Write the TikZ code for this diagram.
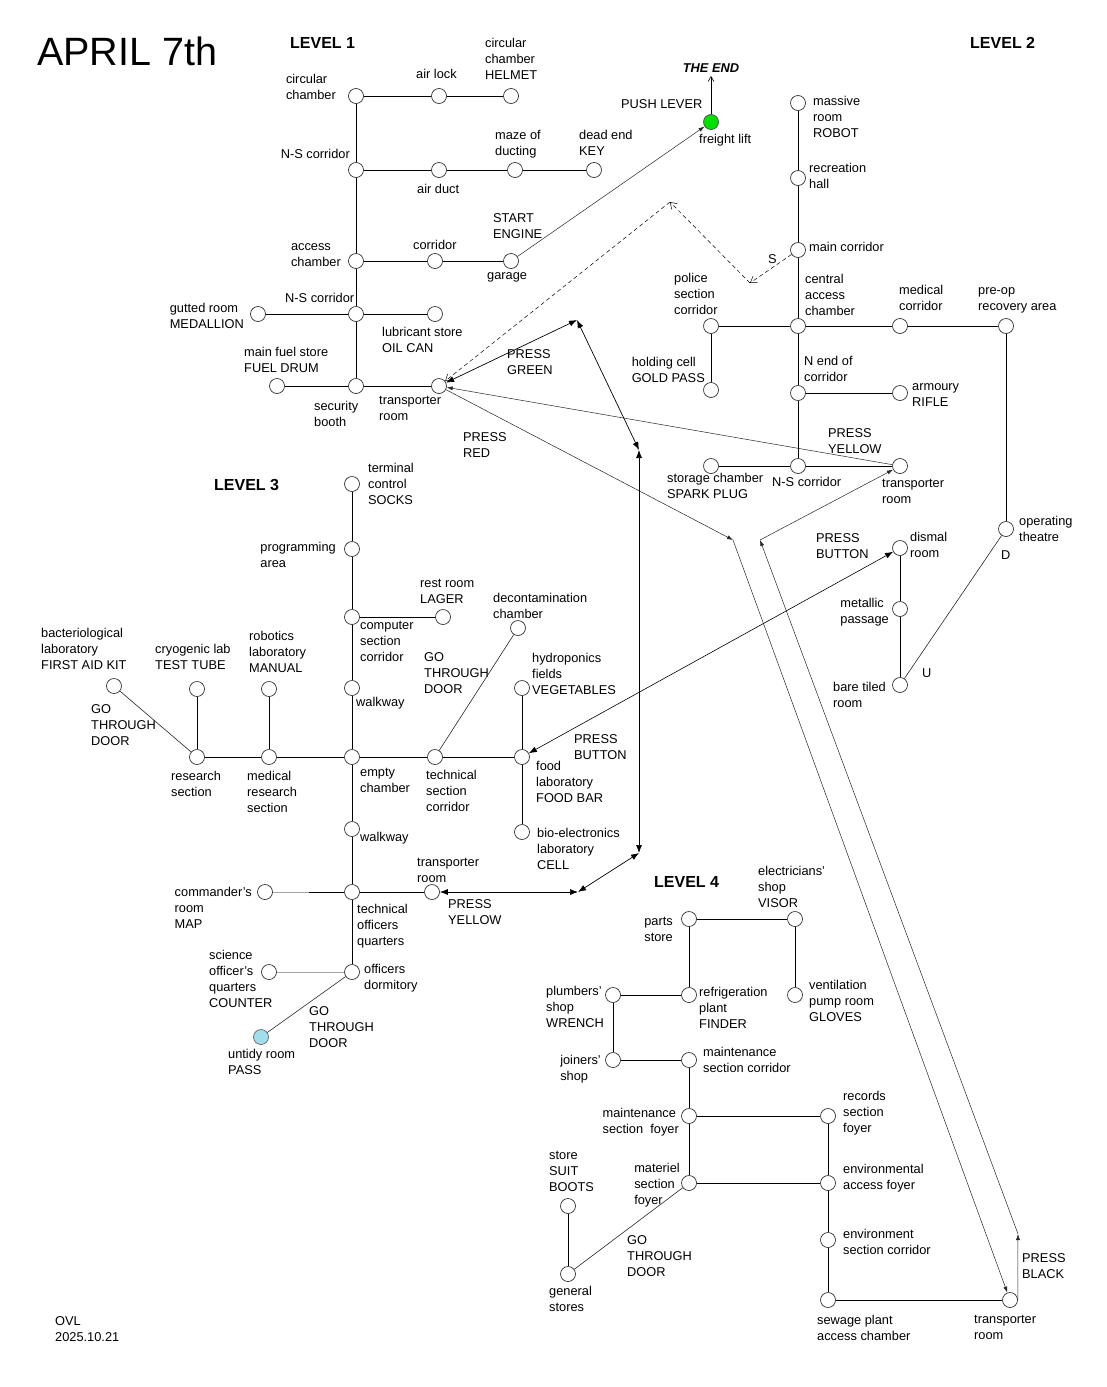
\documentclass[tikz,border=0pt]{standalone}
\usepackage{fontspec}
\setmainfont{Liberation Sans}
\usetikzlibrary{arrows.meta}
\definecolor{lgreen}{RGB}{0,225,0}
\definecolor{lblue}{RGB}{160,222,236}
\newcommand\myfs{\fontsize{12.8}{16}\selectfont}
\begin{document}
\begin{tikzpicture}[x=1pt,y=-1pt,
  room/.style={circle, draw=black!80, line width=0.7pt, fill=white, minimum size=15pt, inner sep=0pt},
  lbl/.style={anchor=north west, yshift=11.2pt, inner sep=0pt, align=left, font=\myfs},
  rlbl/.style={lbl, anchor=north east},
  lvl/.style={anchor=base west, inner sep=0pt, font=\bfseries\fontsize{16}{19}\selectfont},
  link/.style={line width=0.85pt},
  door/.style={line width=0.6pt, draw=black!85},
  thinarrow/.style={line width=0.5pt, draw=black!85, -{Latex[length=6pt,width=4pt]}},
  endarrow/.style={line width=0.6pt, -{Straight Barb[length=5pt,width=6pt]}},
  dbl/.style={line width=0.7pt, {Latex[length=8pt,width=6pt]}-{Latex[length=8pt,width=6pt]}},
  dsh/.style={line width=0.5pt, dash pattern=on 4pt off 3pt, -{Straight Barb[length=6pt,width=8pt]}},
]
\fill[white] (0,0) rectangle (1107,1387);
\useasboundingbox (0,0) rectangle (1107,1387);

% ---------- title ----------
\node[anchor=base west, inner sep=0pt, font=\fontsize{39.5}{46}\selectfont] (title) at (37,65) {APRIL 7th};
\node[lbl] (t_sig) at (55,1325) {\strut OVL\\2025.10.21};

% ---------- LEVEL 1 ----------
\node[lvl] (lv1) at (290,48) {LEVEL 1};
\node[room] (c1) at (356,96) {};
\node[room] (airlock) at (439,96) {};
\node[room] (helmet) at (511,96) {};
\node[room] (ns1) at (356,170) {};
\node[room] (airduct) at (439,170) {};
\node[room] (maze) at (515,170) {};
\node[room] (deadend) at (594,170) {};
\node[room] (access) at (356,261) {};
\node[room] (corr1) at (435,261) {};
\node[room] (garage) at (511,261) {};
\node[room] (ns2) at (356,314) {};
\node[room] (gutted) at (258,314) {};
\node[room] (lube) at (435,314) {};
\node[room] (secur) at (356,386) {};
\node[room] (fuel) at (277,386) {};
\node[room] (tr1) at (439,386) {};

\node[rlbl] (t_c1) at (336,83) {\strut circular\\chamber};
\node[lbl] (t_airlock) at (416,78) {\strut air lock};
\node[lbl] (t_helmet) at (485,47.5) {\strut circular\\chamber\\HELMET};
\node[rlbl] (t_ns1) at (350,158) {\strut N-S corridor};
\node[lbl] (t_airduct) at (417,193) {\strut air duct};
\node[lbl] (t_maze) at (495,139) {\strut maze of\\ducting};
\node[lbl] (t_dead) at (579,139) {\strut dead end\\KEY};
\node[rlbl] (t_access) at (341,250) {\strut access\\chamber};
\node[lbl] (t_corr1) at (413,249) {\strut corridor};
\node[lbl] (t_start) at (493,222) {\strut START\\ENGINE};
\node[lbl] (t_garage) at (487,279) {\strut garage};
\node[lbl] (t_ns2) at (285,302) {\strut N-S corridor};
\node[rlbl] (t_gutted) at (244,312) {\strut gutted room\\MEDALLION};
\node[lbl] (t_lube) at (382,336) {\strut lubricant store\\OIL CAN};
\node[lbl] (t_fuel) at (244,356) {\strut main fuel store\\FUEL DRUM};
\node[lbl] (t_secur) at (314,410) {\strut security\\booth};
\node[lbl] (t_tr1) at (379,404) {\strut transporter\\room};
\node[lbl] (t_green) at (507,358) {\strut PRESS\\GREEN};
\node[lbl] (t_red) at (463,441) {\strut PRESS\\RED};

\draw[link] (c1) -- (airlock) -- (helmet);
\draw[link] (c1) -- (ns1) -- (access) -- (ns2) -- (secur);
\draw[link] (ns1) -- (airduct) -- (maze) -- (deadend);
\draw[link] (access) -- (corr1) -- (garage);
\draw[link] (gutted) -- (ns2) -- (lube);
\draw[link] (fuel) -- (secur) -- (tr1);

% ---------- LEVEL 2 ----------
\node[lvl] (lv2) at (970,48) {LEVEL 2};
\node[room, fill=lgreen, draw=black!70] (freight) at (711,122) {};
\coordinate (endtip) at (711,76);
\node[anchor=base, inner sep=0pt, font=\bfseries\itshape\myfs] (t_end) at (711,72) {THE END};
\node[room] (robot) at (798,103) {};
\node[room] (recr) at (798,178) {};
\node[room] (mainc) at (798,250) {};
\node[room] (central) at (798,326) {};
\node[room] (police) at (711,326) {};
\node[room] (medc) at (900,326) {};
\node[room] (preop) at (1006,326) {};
\node[room] (holding) at (711,390) {};
\node[room] (nend) at (798,393) {};
\node[room] (armoury) at (900,393) {};
\node[room] (storage) at (711,466) {};
\node[room] (ns3) at (798,466) {};
\node[room] (tr2) at (900,466) {};
\node[room] (optheatre) at (1006,529) {};
\node[room] (dismal) at (900,548) {};
\node[room] (metallic) at (900,609) {};
\node[room] (bare) at (900,685) {};

\node[lbl] (t_push) at (621,108) {\strut PUSH LEVER};
\node[lbl] (t_freight) at (699,143) {\strut freight lift};
\node[lbl] (t_robot) at (813,105) {\strut massive\\room\\ROBOT};
\node[lbl] (t_recr) at (809,172) {\strut recreation\\hall};
\node[lbl] (t_mainc) at (809,251) {\strut main corridor};
\node[lbl] (t_S) at (768,263) {\strut S};
\node[lbl] (t_central) at (805,283) {\strut central\\access\\chamber};
\node[lbl] (t_police) at (674,282) {\strut police\\section\\corridor};
\node[lbl] (t_medc) at (899,294) {\strut medical\\corridor};
\node[lbl] (t_preop) at (978,294) {\strut pre-op\\recovery area};
\node[rlbl] (t_holding) at (705,366) {\strut holding cell\\GOLD PASS};
\node[lbl] (t_nend) at (804,365) {\strut N end of\\corridor};
\node[lbl] (t_arm) at (912,390) {\strut armoury\\RIFLE};
\node[lbl] (t_storage) at (667,482) {\strut storage chamber\\SPARK PLUG};
\node[lbl] (t_ns3) at (772,486) {\strut N-S corridor};
\node[lbl] (t_tr2) at (882,487) {\strut transporter\\room};
\node[lbl] (t_yel2) at (828,437) {\strut PRESS\\YELLOW};
\node[lbl] (t_op) at (1019,525) {\strut operating\\theatre};
\node[lbl] (t_D) at (1001,559) {\strut D};
\node[lbl] (t_dismal) at (910,541) {\strut dismal\\room};
\node[lbl] (t_btn2) at (816,542) {\strut PRESS\\BUTTON};
\node[rlbl] (t_metal) at (889,607) {\strut metallic\\passage};
\node[rlbl] (t_bare) at (886,691) {\strut bare tiled\\room};
\node[lbl] (t_U) at (922,677) {\strut U};

\draw[link] (robot) -- (recr) -- (mainc) -- (central) -- (nend) -- (ns3);
\draw[link] (police) -- (central) -- (medc) -- (preop) -- (optheatre);
\draw[link] (police) -- (holding);
\draw[link] (nend) -- (armoury);
\draw[link] (storage) -- (ns3) -- (tr2);
\draw[link] (dismal) -- (metallic) -- (bare);
\draw[door] (bare) -- (optheatre);
\draw[thinarrow] (garage) -- (freight);
\draw[endarrow] (freight) -- (endtip);

% ---------- LEVEL 3 ----------
\node[lvl] (lv3) at (214,490) {LEVEL 3};
\node[room] (term) at (352,484) {};
\node[room] (prog) at (352,549) {};
\node[room] (comp) at (352,617) {};
\node[room] (rest) at (443,617) {};
\node[room] (walk1) at (352,688) {};
\node[room] (empty) at (352,757) {};
\node[room] (research) at (197,757) {};
\node[room] (medres) at (269,757) {};
\node[room] (bact) at (114,686) {};
\node[room] (cryo) at (197,689) {};
\node[room] (robo) at (269,689) {};
\node[room] (decon) at (518,628) {};
\node[room] (techsec) at (435,757) {};
\node[room] (hydro) at (522,688) {};
\node[room] (food) at (522,757) {};
\node[room] (bio) at (522,832) {};
\node[room] (walk2) at (352,829) {};
\node[room] (techoff) at (352,892) {};
\node[room] (tr3) at (432,892) {};
\node[room] (cmd) at (265,892) {};
\node[room] (dorm) at (352,972) {};
\node[room] (sci) at (269,972) {};
\node[room, fill=lblue, draw=black!60] (untidy) at (261,1037) {};
\coordinate (cmdmid) at (309,892);

\node[lbl] (t_term) at (368,472) {\strut terminal\\control\\SOCKS};
\node[rlbl] (t_prog) at (336,551) {\strut programming\\area};
\node[lbl] (t_comp) at (360,629) {\strut computer\\section\\corridor};
\node[lbl] (t_rest) at (420,587) {\strut rest room\\LAGER};
\node[lbl] (t_decon) at (493,602) {\strut decontamination\\chamber};
\node[lbl] (t_go2) at (424,661) {\strut GO\\THROUGH\\DOOR};
\node[lbl] (t_walk1) at (356,706) {\strut walkway};
\node[lbl] (t_hydro) at (532,662) {\strut hydroponics\\fields\\VEGETABLES};
\node[lbl] (t_empty) at (360,776) {\strut empty\\chamber};
\node[lbl] (t_techsec) at (426,779) {\strut technical\\section\\corridor};
\node[lbl] (t_food) at (536,770) {\strut food\\laboratory\\FOOD BAR};
\node[lbl] (t_btn3) at (574,743) {\strut PRESS\\BUTTON};
\node[lbl] (t_bio) at (537,837) {\strut bio-electronics\\laboratory\\CELL};
\node[lbl] (t_research) at (171,780) {\strut research\\section};
\node[lbl] (t_medres) at (247,780) {\strut medical\\research\\section};
\node[lbl] (t_bact) at (41,637) {\strut bacteriological\\laboratory\\FIRST AID KIT};
\node[lbl] (t_cryo) at (155,653) {\strut cryogenic lab\\TEST TUBE};
\node[lbl] (t_robo) at (249,640) {\strut robotics\\laboratory\\MANUAL};
\node[lbl] (t_go1) at (91,713) {\strut GO\\THROUGH\\DOOR};
\node[lbl] (t_walk2) at (360,841) {\strut walkway};
\node[lbl] (t_tr3) at (417,866) {\strut transporter\\room};
\node[lbl] (t_yel3) at (448,908) {\strut PRESS\\YELLOW};
\node[lbl] (t_techoff) at (357,913) {\strut technical\\officers\\quarters};
\node[rlbl] (t_cmd) at (252,896) {\strut commander's\\room\\MAP};
\node[lbl] (t_dorm) at (364,973) {\strut officers\\dormitory};
\node[lbl] (t_sci) at (209,959) {\strut science\\officer's\\quarters\\COUNTER};
\node[lbl] (t_untidy) at (228,1058) {\strut untidy room\\PASS};
\node[lbl] (t_go3) at (309,1015) {\strut GO\\THROUGH\\DOOR};

\draw[link] (term) -- (prog) -- (comp) -- (walk1) -- (empty) -- (walk2) -- (techoff) -- (dorm);
\draw[link] (comp) -- (rest);
\draw[link] (research) -- (medres) -- (empty) -- (techsec) -- (food);
\draw[link] (cryo) -- (research);
\draw[link] (robo) -- (medres);
\draw[door] (bact) -- (research);
\draw[door] (decon) -- (techsec);
\draw[link] (hydro) -- (food) -- (bio);
\draw[link] (techoff) -- (tr3);
\draw[link, draw=black!35] (cmd) -- (cmdmid);
\draw[link] (cmdmid) -- (techoff);
\draw[link, draw=black!35] (sci) -- (dorm);
\draw[door] (untidy) -- (dorm);

% ---------- LEVEL 4 ----------
\node[lvl] (lv4) at (654,887) {LEVEL 4};
\node[room] (parts) at (689,919) {};
\node[room] (elec) at (795,919) {};
\node[room] (refrig) at (689,995) {};
\node[room] (vent) at (795,995) {};
\node[room] (plumb) at (613,995) {};
\node[room] (join) at (613,1060) {};
\node[room] (msc) at (689,1060) {};
\node[room] (mfoy) at (689,1116) {};
\node[room] (records) at (828,1116) {};
\node[room] (mat) at (689,1183) {};
\node[room] (envacc) at (828,1183) {};
\node[room] (envsec) at (828,1240) {};
\node[room] (sewage) at (828,1300) {};
\node[room] (tr4) at (1010,1300) {};
\node[room] (suit) at (568,1206) {};
\node[room] (gen) at (568,1274) {};

\node[rlbl] (t_parts) at (673,925) {\strut parts\\store};
\node[lbl] (t_elec) at (758,875) {\strut electricians'\\shop\\VISOR};
\node[lbl] (t_refrig) at (699,996) {\strut refrigeration\\plant\\FINDER};
\node[lbl] (t_vent) at (809,989) {\strut ventilation\\pump room\\GLOVES};
\node[rlbl] (t_plumb) at (604,995) {\strut plumbers'\\shop\\WRENCH};
\node[rlbl] (t_join) at (601,1064) {\strut joiners'\\shop};
\node[lbl] (t_msc) at (703,1056) {\strut maintenance\\section corridor};
\node[rlbl] (t_mfoy) at (679,1117) {\strut maintenance\\section\ \ foyer};
\node[lbl] (t_records) at (843,1100) {\strut records\\section\\foyer};
\node[rlbl] (t_mat) at (680,1172) {\strut materiel\\section\\foyer};
\node[lbl] (t_envacc) at (843,1173) {\strut environmental\\access foyer};
\node[lbl] (t_envsec) at (843,1238) {\strut environment\\section corridor};
\node[lbl] (t_sewage) at (817,1324) {\strut sewage plant\\access chamber};
\node[lbl] (t_tr4) at (974,1323) {\strut transporter\\room};
\node[lbl] (t_black) at (1022,1262) {\strut PRESS\\BLACK};
\node[lbl] (t_suit) at (549,1159) {\strut store\\SUIT\\BOOTS};
\node[lbl] (t_gen) at (549,1295) {\strut general\\stores};
\node[lbl] (t_go4) at (627,1244) {\strut GO\\THROUGH\\DOOR};

\draw[link] (parts) -- (elec) -- (vent);
\draw[link] (parts) -- (refrig) -- (plumb) -- (join) -- (msc) -- (mfoy) -- (mat) -- (envacc);
\draw[link] (mfoy) -- (records) -- (envacc) -- (envsec) -- (sewage) -- (tr4);
\draw[link] (suit) -- (gen);
\draw[door] (mat) -- (gen);

% ---------- transporters ----------
\coordinate (dA) at (750,283);
\coordinate (dB) at (670,202);
\coordinate (gP) at (577,320);
\coordinate (gV1) at (639,450);
\coordinate (gV2) at (639,853);
\coordinate (gH) at (578,892);
\coordinate (rA) at (733,540);
\coordinate (bA) at (1018,1234);
\coordinate (bB) at (760,540);

\draw[dsh] (mainc) -- (dA);
\draw[dsh] (dA) -- (dB);
\draw[dsh] (dB) -- (tr1);

\draw[dbl] (tr1) -- (gP);
\draw[dbl] (gP) -- (gV1);
\draw[dbl] (gV1) -- (gV2);
\draw[dbl] (gV2) -- (gH);
\draw[dbl] (gH) -- (tr3);

\draw[thinarrow] (tr2) -- (tr1);
\draw[thinarrow] (tr1) -- (rA);
\draw[thinarrow] (rA) -- (tr4);
\draw[thinarrow] (tr4.east) -- (bA);
\draw[thinarrow] (bA) -- (bB);
\draw[thinarrow] (bB) -- (tr2);

\draw[line width=0.6pt, {Latex[length=8pt,width=6pt]}-{Latex[length=8pt,width=6pt]}] (dismal) -- (food);
\end{tikzpicture}
\end{document}
